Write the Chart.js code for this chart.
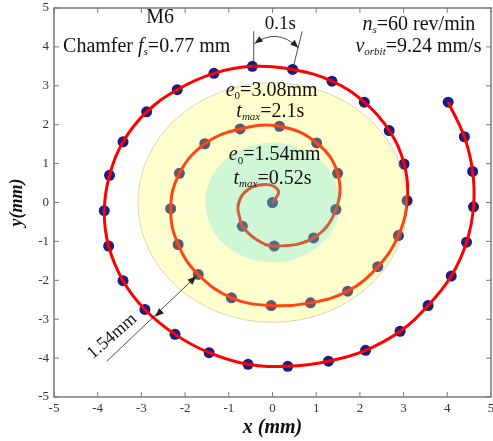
<!DOCTYPE html>
<html>
<head>
<meta charset="utf-8">
<script src="https://cdn.jsdelivr.net/npm/chart.js@4/dist/chart.umd.min.js"></script>
<style>
  body { margin: 0; background: #fff; }
  #wrap { width: 493px; height: 441px; }
</style>
</head>
<body>
<div id="wrap"><canvas id="spiral-chart"></canvas></div>
<script>
// sample points, one every 0.1 s (mm)
const dotX = [0, -0.69, 0.04, 0.94, 1.45, 1.49, 1.01, 0.16, -0.74, -1.55,
  -2.13, -2.33, -2.16, -1.70, -0.94, -0.03, 0.87, 1.72, 2.41, 2.88,
  3.08, 3.01, 2.67, 2.10, 1.36, 0.46, -0.46, -1.34, -2.18, -2.88,
  -3.42, -3.73, -3.85, -3.75, -3.42, -2.92, -2.23, -1.45, -0.56, 0.35,
  1.28, 2.13, 2.92, 3.56, 4.09, 4.44, 4.60, 4.58, 4.39, 4.02];
const dotY = [0, -0.61, -1.12, -0.91, -0.18, 0.75, 1.53, 1.96, 1.89, 1.51,
  0.75, -0.16, -1.08, -1.85, -2.45, -2.65, -2.58, -2.28, -1.65, -0.85,
  0.05, 0.99, 1.85, 2.58, 3.12, 3.42, 3.50, 3.32, 2.90, 2.33,
  1.56, 0.70, -0.21, -1.12, -2.01, -2.75, -3.39, -3.86, -4.16, -4.21,
  -4.08, -3.80, -3.31, -2.65, -1.89, -1.02, -0.11, 0.80, 1.69, 2.58];

// the little hook at the start of the path
const hookX = [0, 0.14, 0.02, -0.18, -0.45, -0.68, -0.79, -0.75];
const hookY = [0, 0.26, 0.42, 0.46, 0.40, 0.21, -0.09, -0.39];
const bendX = [-0.37];
const bendY = [-0.95];

// eccentricity zones (mm)
const zoneRadii = [3.08, 1.54];
const ticks = [-5, -4, -3, -2, -1, 0, 1, 2, 3, 4, 5];

const lineX = [...hookX, dotX[1], ...bendX, ...dotX.slice(2)];
const lineY = [...hookY, dotY[1], ...bendY, ...dotY.slice(2)];

const serif = '"Liberation Serif", "Times New Roman", serif';

function toPts(xs, ys) {
    return xs.map((x, i) => ({ x: x, y: ys[i] }));
}

function fontFor(p, size) {
    const s = p.sub ? Math.round(size * 0.54) : size;
    return (p.it ? 'italic ' : '') + s + 'px ' + serif;
}

function richText(ctx, parts, x, y, size) {
    let widths = [];
    let total = 0;
    parts.forEach(p => {
        ctx.font = fontFor(p, size);
        const w = ctx.measureText(p.t).width;
        widths.push(w);
        total += w;
    });
    let cx = x - total / 2;
    parts.forEach((p, i) => {
        ctx.font = fontFor(p, size);
        ctx.fillText(p.t, cx, p.sub ? y + size * 0.3 : y);
        cx += widths[i];
    });
}

function arrowHead(ctx, x, y, ang, len, half) {
    ctx.beginPath();
    ctx.moveTo(x, y);
    ctx.lineTo(x - len * Math.cos(ang) + half * Math.sin(ang), y - len * Math.sin(ang) - half * Math.cos(ang));
    ctx.lineTo(x - len * Math.cos(ang) - half * Math.sin(ang), y - len * Math.sin(ang) + half * Math.cos(ang));
    ctx.closePath();
    ctx.fill();
}

const decor = {
    id: 'decor',
    afterDatasetsDraw(chart) {
        const ctx = chart.ctx;
        const xs = chart.scales.x, ys = chart.scales.y;
        const cx = xs.getPixelForValue(0), cy = ys.getPixelForValue(0);
        const fills = ['rgba(255,255,74,0.27)', 'rgba(0,208,247,0.19)'];
        zoneRadii.forEach((r, i) => {
            const rx = xs.getPixelForValue(r) - cx;
            const ry = cy - ys.getPixelForValue(r);
            ctx.save();
            ctx.beginPath();
            ctx.ellipse(cx, cy, rx, ry, 0, 0, Math.PI * 2);
            ctx.fillStyle = fills[i];
            ctx.fill();
            if (i === 0) {
                ctx.strokeStyle = 'rgba(140,140,100,0.35)';
                ctx.lineWidth = 1;
                ctx.stroke();
            }
            ctx.restore();
        });
    },
    afterDraw(chart) {
        const ctx = chart.ctx;
        const a = chart.chartArea;
        const xs = chart.scales.x, ys = chart.scales.y;
        const px = v => xs.getPixelForValue(v);
        const py = v => ys.getPixelForValue(v);

        ctx.save();
        // box and inward ticks
        ctx.strokeStyle = '#7a7a7a';
        ctx.lineWidth = 1.5;
        ctx.strokeRect(a.left, a.top, a.right - a.left, a.bottom - a.top);
        ctx.lineWidth = 1;
        ticks.forEach(v => {
            const x = px(v), y = py(v);
            ctx.beginPath();
            ctx.moveTo(x, a.bottom); ctx.lineTo(x, a.bottom - 5);
            ctx.moveTo(x, a.top); ctx.lineTo(x, a.top + 5);
            ctx.moveTo(a.left, y); ctx.lineTo(a.left + 5, y);
            ctx.moveTo(a.right, y); ctx.lineTo(a.right - 5, y);
            ctx.stroke();
        });

        // labels
        ctx.fillStyle = '#111';
        ctx.textBaseline = 'middle';
        ctx.textAlign = 'left';
        richText(ctx, [{ t: 'M6' }], px(-2.57), py(4.76), 20);
        richText(ctx, [{ t: 'Chamfer ' }, { t: 'f', it: 1 }, { t: 's', it: 1, sub: 1 }, { t: '=0.77 mm' }],
            px(-2.88), py(4.01), 20);
        richText(ctx, [{ t: 'n', it: 1 }, { t: 's', it: 1, sub: 1 }, { t: '=60 rev/min' }],
            px(3.35), py(4.58), 20);
        richText(ctx, [{ t: 'v', it: 1 }, { t: 'orbit', it: 1, sub: 1 }, { t: '=9.24 mm/s' }],
            px(3.34), py(4.01), 20);
        richText(ctx, [{ t: '0.1s' }], px(0.18), py(4.58), 19);
        richText(ctx, [{ t: 'e', it: 1 }, { t: '0', sub: 1 }, { t: '=3.08mm' }], px(-0.02), py(2.88), 20);
        richText(ctx, [{ t: 't', it: 1 }, { t: 'max', it: 1, sub: 1 }, { t: '=2.1s' }], px(-0.05), py(2.34), 20);
        richText(ctx, [{ t: 'e', it: 1 }, { t: '0', sub: 1 }, { t: '=1.54mm' }], px(0.05), py(1.23), 20);
        richText(ctx, [{ t: 't', it: 1 }, { t: 'max', it: 1, sub: 1 }, { t: '=0.52s' }], px(0), py(0.62), 20);

        // 1.54mm dimension
        ctx.save();
        ctx.translate(px(-3.67), py(-3.44));
        ctx.rotate(-41 * Math.PI / 180);
        richText(ctx, [{ t: '1.54mm' }], 0, 0, 18);
        ctx.restore();

        ctx.strokeStyle = '#222';
        ctx.fillStyle = '#222';
        ctx.lineWidth = 0.8;
        const x1 = px(-3.79), y1 = py(-4.08), x2 = px(-1.74), y2 = py(-1.89);
        ctx.beginPath(); ctx.moveTo(x1, y1); ctx.lineTo(x2, y2); ctx.stroke();
        const ang = Math.atan2(y2 - y1, x2 - x1);
        arrowHead(ctx, x2, y2, ang, 9, 3.5);
        arrowHead(ctx, px(-2.69), py(-2.94), ang + Math.PI, 9, 3.5);

        // 0.1s arc
        ctx.beginPath();
        ctx.moveTo(px(-0.43), py(3.42)); ctx.lineTo(px(-0.43), py(4.40));
        ctx.moveTo(px(0.46), py(3.42)); ctx.lineTo(px(0.68), py(4.40));
        ctx.stroke();
        const s = [px(-0.41), py(4.09)], c = [px(0.11), py(4.50)], e = [px(0.59), py(3.98)];
        ctx.beginPath();
        ctx.moveTo(s[0], s[1]);
        ctx.quadraticCurveTo(c[0], c[1], e[0], e[1]);
        ctx.stroke();
        arrowHead(ctx, s[0], s[1], Math.atan2(s[1] - c[1], s[0] - c[0]), 8, 3.2);
        arrowHead(ctx, e[0], e[1], Math.atan2(e[1] - c[1], e[0] - c[0]), 8, 3.2);
        ctx.restore();
    }
};

new Chart(document.getElementById('spiral-chart'), {
    type: 'scatter',
    data: {
        datasets: [{
            label: 'orbit',
            data: toPts(lineX, lineY),
            showLine: true,
            borderColor: '#ff0000',
            borderWidth: 3,
            tension: 0.4,
            pointRadius: 0,
            order: 0
        }, {
            label: 'samples',
            data: toPts(dotX, dotY),
            showLine: false,
            pointRadius: 5.5,
            pointBackgroundColor: '#1c1c82',
            pointBorderColor: '#1c1c82',
            pointBorderWidth: 0,
            order: 1
        }]
    },
    options: {
        responsive: true,
        maintainAspectRatio: false,
        animation: false,
        layout: { autoPadding: false, padding: { top: 8, right: 2, left: 0, bottom: 0 } },
        plugins: {
            legend: { display: false },
            tooltip: { enabled: false }
        },
        scales: {
            x: {
                type: 'linear',
                min: -5,
                max: 5,
                grid: { display: false, drawTicks: false },
                border: { display: false },
                ticks: {
                    stepSize: 1,
                    padding: 4,
                    color: '#333',
                    font: { family: serif, size: 13 }
                },
                title: {
                    display: true,
                    text: 'x (mm)',
                    color: '#111',
                    padding: { top: 0, bottom: 1 },
                    font: { family: serif, size: 20, style: 'italic', weight: 'bold' }
                },
                afterFit: function(s) {
                    s.height = 44;
                    s.paddingLeft = 0;
                    s.paddingRight = 0;
                }
            },
            y: {
                type: 'linear',
                min: -5,
                max: 5,
                grid: { display: false, drawTicks: false },
                border: { display: false },
                ticks: {
                    stepSize: 1,
                    padding: 5,
                    color: '#333',
                    font: { family: serif, size: 13 }
                },
                title: {
                    display: true,
                    text: 'y(mm)',
                    color: '#111',
                    padding: { top: 7, bottom: 0 },
                    font: { family: serif, size: 18, style: 'italic', weight: 'bold' }
                },
                afterFit: function(s) {
                    s.width = 54;
                    s.paddingTop = 0;
                    s.paddingBottom = 0;
                }
            }
        }
    },
    plugins: [decor]
});
</script>
</body>
</html>
